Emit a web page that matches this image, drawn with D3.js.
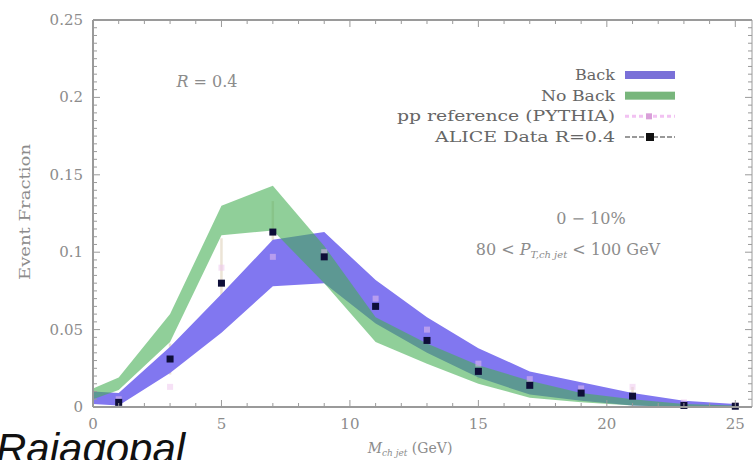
<!DOCTYPE html>
<html>
<head>
<meta charset="utf-8">
<script src="https://cdn.jsdelivr.net/npm/d3@7"></script>
<style>
  body { margin: 0; background: #fff; }
  svg { display: block; }
</style>
</head>
<body>
<svg id="chart" width="753" height="460"></svg>
<script>
// band edges (Back / No Back)
const massX = [0, 1, 3, 5, 7, 9, 11, 13, 15, 17, 19, 21, 23, 25];
const backLow  = [0.002, 0.001, 0.022, 0.048, 0.078, 0.080, 0.054, 0.035, 0.019, 0.008, 0.004, 0.001, 0.000, 0.000];
const backHigh = [0.010, 0.009, 0.039, 0.073, 0.108, 0.113, 0.082, 0.058, 0.038, 0.023, 0.016, 0.009, 0.004, 0.002];
const noBackLow  = [0.005, 0.011, 0.042, 0.111, 0.114, 0.080, 0.042, 0.028, 0.015, 0.006, 0.003, 0.001, 0.000, 0.000];
const noBackHigh = [0.012, 0.019, 0.060, 0.130, 0.143, 0.104, 0.058, 0.041, 0.027, 0.017, 0.009, 0.005, 0.002, 0.001];

// ALICE data points + errors
const dataX = [1, 3, 5, 7, 9, 11, 13, 15, 17, 19, 21, 23, 25];
const dataY = [0.003, 0.031, 0.080, 0.113, 0.097, 0.065, 0.043, 0.023, 0.014, 0.009, 0.007, 0.001, 0.0005];
const dataErr = [0.002, 0.010, 0.029, 0.020, 0.015, 0.010, 0.006, 0.005, 0.003, 0.003, 0.006, 0.001, 0.001];

// pp reference (PYTHIA), faint
const ppY = [0.005, 0.013, 0.090, 0.097, 0.100, 0.070, 0.050, 0.028, 0.018, 0.012, 0.013, 0.003, 0.001];

const legendLabels = ['Back', 'No Back', 'pp reference (PYTHIA)', 'ALICE Data R=0.4'];
const legendWidths = [40, 74, 218, 180];
const xTicks = [0, 5, 10, 15, 20, 25];
const yTicks = [0, 0.05, 0.1, 0.15, 0.2, 0.25];

const serif = '"DejaVu Serif", "Liberation Serif", serif';
const gray = '#8c8c8c';

const svg = d3.select('#chart');
const pLeft = 93, pRight = 752, pTop = 20, pBottom = 407;

const x = d3.scaleLinear().domain([0, 25.65]).range([pLeft, pRight]);
const y = d3.scaleLinear().domain([0, 0.25]).range([pBottom, pTop]);

// error bars go under the bands
svg.append('g').selectAll('line').data(dataX).enter()
    .append('line')
    .attr('x1', (d) => x(d)).attr('x2', (d) => x(d))
    .attr('y1', (d, i) => y(dataY[i] - dataErr[i]))
    .attr('y2', (d, i) => y(dataY[i] + dataErr[i]))
    .attr('stroke', '#ece4d6').attr('stroke-width', 2.5);

// bands
const band = (lo, hi) => d3.area()
    .x((d, i) => x(massX[i]))
    .y0((d, i) => y(lo[i]))
    .y1((d, i) => y(hi[i]))(massX);

svg.append('path').attr('d', band(backLow, backHigh)).attr('fill', '#8177f0');
svg.append('path').attr('d', band(noBackLow, noBackHigh))
    .attr('fill', 'rgb(70,175,85)').attr('fill-opacity', 0.6);

// pp reference markers (pale)
svg.append('g').selectAll('rect').data(dataX).enter()
    .append('rect')
    .attr('x', (d) => x(d) - 3)
    .attr('y', (d, i) => y(ppY[i]) - 3)
    .attr('width', 6).attr('height', 6)
    .attr('fill', '#eec4ee').attr('opacity', 0.5);

// data points
svg.append('g').selectAll('rect').data(dataX).enter()
    .append('rect')
    .attr('x', (d) => x(d) - 3.5)
    .attr('y', (d, i) => y(dataY[i]) - 3.5)
    .attr('width', 7).attr('height', 7)
    .attr('fill', '#0e0e38');

// frame + ticks
const frame = svg.append('g').attr('stroke', '#9a9a9a').attr('fill', 'none');
frame.append('line').attr('x1', pLeft).attr('x2', pRight).attr('y1', pTop).attr('y2', pTop).attr('stroke-width', 2);
frame.append('line').attr('x1', pLeft).attr('x2', pLeft).attr('y1', pTop).attr('y2', pBottom).attr('stroke-width', 2);
frame.append('line').attr('x1', pLeft).attr('x2', pRight).attr('y1', pBottom).attr('y2', pBottom).attr('stroke-width', 2);
frame.append('line').attr('x1', pRight).attr('x2', pRight).attr('y1', pTop).attr('y2', pBottom).attr('stroke-width', 1);

const xMinor = d3.range(0, 26, 1);
const yMinor = d3.range(0, 51).map((i) => i * 0.005);
frame.selectAll('.xt').data(xMinor).enter().append('line')
    .attr('x1', (d) => x(d)).attr('x2', (d) => x(d))
    .attr('y1', pTop).attr('y2', (d) => pTop + (d % 5 === 0 ? 7 : 4));
frame.selectAll('.xb').data(xMinor).enter().append('line')
    .attr('x1', (d) => x(d)).attr('x2', (d) => x(d))
    .attr('y1', pBottom).attr('y2', (d) => pBottom - (d % 5 === 0 ? 7 : 4));
frame.selectAll('.yl').data(yMinor).enter().append('line')
    .attr('y1', (d) => y(d)).attr('y2', (d) => y(d))
    .attr('x1', pLeft).attr('x2', (d, i) => pLeft + (i % 10 === 0 ? 7 : 4));
frame.selectAll('.yr').data(yMinor).enter().append('line')
    .attr('y1', (d) => y(d)).attr('y2', (d) => y(d))
    .attr('x1', pRight).attr('x2', (d, i) => pRight - (i % 10 === 0 ? 7 : 4));

// tick labels
svg.append('g').selectAll('text').data(xTicks).enter()
    .append('text')
    .attr('x', (d) => x(d)).attr('y', pBottom + 22)
    .attr('text-anchor', 'middle')
    .attr('font-family', serif).attr('font-size', 15).attr('fill', gray)
    .text((d) => d);
svg.append('g').selectAll('text').data(yTicks).enter()
    .append('text')
    .attr('x', pLeft - 10).attr('y', (d) => y(d) + 5)
    .attr('text-anchor', 'end')
    .attr('font-family', serif).attr('font-size', 15).attr('fill', gray)
    .text((d) => d);

// axis titles
svg.append('text')
    .attr('transform', 'translate(30,212) rotate(-90)')
    .attr('text-anchor', 'middle')
    .attr('font-family', serif).attr('font-size', 15).attr('fill', gray)
    .attr('textLength', 136).attr('lengthAdjust', 'spacingAndGlyphs')
    .text('Event Fraction');
const xt = svg.append('text')
    .attr('x', 410).attr('y', 453)
    .attr('text-anchor', 'middle')
    .attr('font-family', serif).attr('font-size', 14).attr('fill', gray);
xt.append('tspan').attr('font-style', 'italic').text('M');
xt.append('tspan').attr('font-size', 9).attr('dy', 3).attr('font-style', 'italic').text('ch jet');
xt.append('tspan').attr('dy', -3).text(' (GeV)');

// annotations
const rt = svg.append('text').attr('x', 207).attr('y', 87).attr('text-anchor', 'middle')
    .attr('font-family', serif).attr('font-size', 16).attr('fill', gray);
rt.append('tspan').attr('font-style', 'italic').text('R');
rt.append('tspan').text(' = 0.4');

svg.append('text').attr('x', 591).attr('y', 224).attr('text-anchor', 'middle')
    .attr('font-family', serif).attr('font-size', 16).attr('fill', gray)
    .text('0 − 10%');
const pt = svg.append('text').attr('x', 568).attr('y', 255).attr('text-anchor', 'middle')
    .attr('font-family', serif).attr('font-size', 16).attr('fill', gray);
pt.append('tspan').text('80 < ');
pt.append('tspan').attr('font-style', 'italic').text('P');
pt.append('tspan').attr('font-size', 10).attr('dy', 3).attr('font-style', 'italic').text('T,ch jet');
pt.append('tspan').attr('dy', -3).text(' < 100 GeV');

// legend
const legY = d3.scalePoint().domain(legendLabels).range([75, 137]);
const leg = svg.append('g');
leg.selectAll('text').data(legendLabels).enter()
    .append('text')
    .attr('x', 615).attr('y', (d) => legY(d) + 5)
    .attr('text-anchor', 'end')
    .attr('font-family', serif).attr('font-size', 15).attr('fill', '#666')
    .attr('textLength', (d, i) => legendWidths[i]).attr('lengthAdjust', 'spacingAndGlyphs')
    .text((d) => d);
leg.append('rect').attr('x', 625).attr('y', legY('Back') - 4).attr('width', 50).attr('height', 8).attr('fill', '#7a70d8');
leg.append('rect').attr('x', 625).attr('y', legY('No Back') - 4).attr('width', 50).attr('height', 8).attr('fill', '#78b67c');
leg.append('line').attr('x1', 625).attr('x2', 675)
    .attr('y1', legY('pp reference (PYTHIA)')).attr('y2', legY('pp reference (PYTHIA)'))
    .attr('stroke', '#f2c2f2').attr('stroke-width', 3).attr('stroke-dasharray', '4,3');
leg.append('rect').attr('x', 646).attr('y', legY('pp reference (PYTHIA)') - 3).attr('width', 6).attr('height', 6).attr('fill', '#d9a0d9');
leg.append('line').attr('x1', 625).attr('x2', 675)
    .attr('y1', legY('ALICE Data R=0.4')).attr('y2', legY('ALICE Data R=0.4'))
    .attr('stroke', '#999').attr('stroke-width', 2).attr('stroke-dasharray', '5,2');
leg.append('rect').attr('x', 646).attr('y', legY('ALICE Data R=0.4') - 4).attr('width', 8).attr('height', 8).attr('fill', '#111');

// big overlay text
svg.append('text').attr('x', -4).attr('y', 463)
    .attr('font-family', 'Liberation Sans, Arial, sans-serif')
    .attr('font-style', 'italic').attr('font-size', 42).attr('fill', '#111')
    .text('Rajagopal');
</script>
</body>
</html>
